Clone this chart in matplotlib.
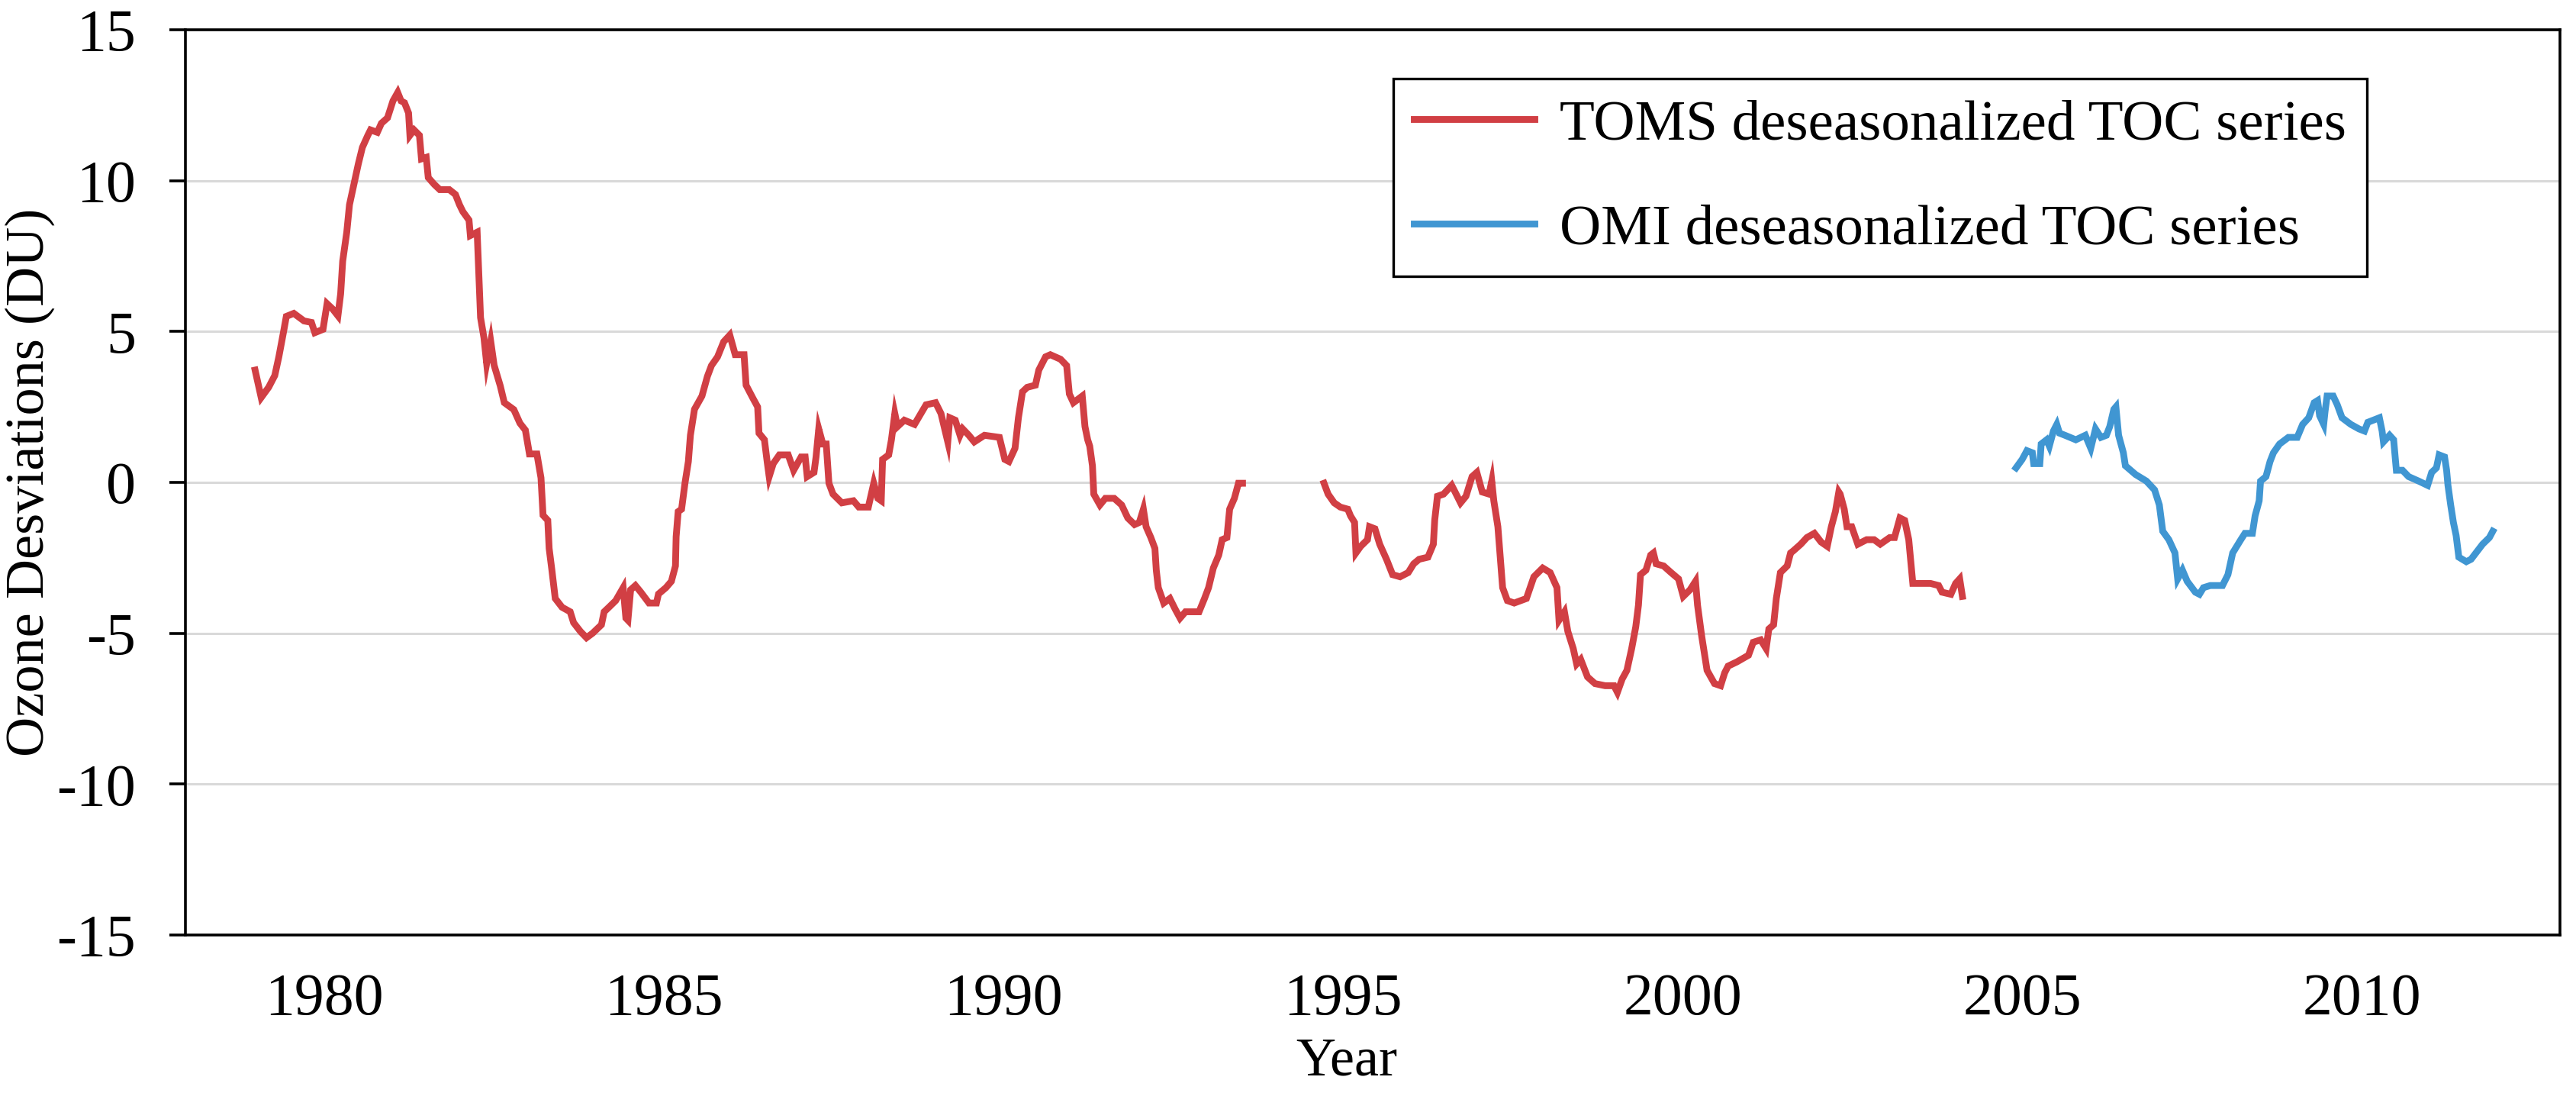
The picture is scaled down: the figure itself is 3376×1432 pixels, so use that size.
import numpy as np
import matplotlib
matplotlib.use("Agg")
import matplotlib.pyplot as plt

# TOMS deseasonalized series (year, DU); nan = data gap
toms_year = [1978.98, 1979.07, 1979.18, 1979.27, 1979.33, 1979.40, 1979.44, 1979.55, 1979.70, 1979.81,
             1979.86, 1979.98, 1980.04, 1980.12, 1980.20, 1980.24, 1980.27, 1980.33, 1980.37, 1980.43,
             1980.50, 1980.56, 1980.64, 1980.68, 1980.78, 1980.84, 1980.93, 1981.01, 1981.08, 1981.13,
             1981.18, 1981.24, 1981.26, 1981.32, 1981.40, 1981.43, 1981.50, 1981.53, 1981.62, 1981.70,
             1981.84, 1981.93, 1981.99, 1982.04, 1982.13, 1982.15, 1982.25, 1982.28, 1982.30, 1982.35,
             1982.39, 1982.45, 1982.50, 1982.59, 1982.65, 1982.79, 1982.88, 1982.96, 1983.02, 1983.13,
             1983.19, 1983.22, 1983.29, 1983.31, 1983.35, 1983.40, 1983.50, 1983.62, 1983.67, 1983.77,
             1983.86, 1983.95, 1984.08, 1984.12, 1984.19, 1984.29, 1984.40, 1984.44, 1984.47, 1984.51,
             1984.58, 1984.66, 1984.78, 1984.89, 1984.92, 1985.03, 1985.11, 1985.17, 1985.18, 1985.21,
             1985.26, 1985.31, 1985.36, 1985.39, 1985.45, 1985.56, 1985.64, 1985.70, 1985.79, 1985.88,
             1985.97, 1986.05, 1986.18, 1986.21, 1986.31, 1986.38, 1986.40, 1986.48, 1986.52, 1986.55,
             1986.61, 1986.70, 1986.83, 1986.91, 1987.02, 1987.08, 1987.11, 1987.21, 1987.24, 1987.28,
             1987.34, 1987.39, 1987.43, 1987.49, 1987.62, 1987.79, 1987.87, 1988.01, 1988.09, 1988.15,
             1988.20, 1988.22, 1988.31, 1988.35, 1988.40, 1988.44, 1988.54, 1988.69, 1988.86, 1989.00,
             1989.08, 1989.18, 1989.21, 1989.29, 1989.36, 1989.40, 1989.49, 1989.57, 1989.72, 1989.94,
             1990.02, 1990.08, 1990.17, 1990.22, 1990.28, 1990.35, 1990.47, 1990.52, 1990.62, 1990.69,
             1990.84, 1990.93, 1990.97, 1991.03, 1991.16, 1991.20, 1991.24, 1991.27, 1991.31, 1991.33,
             1991.42, 1991.50, 1991.63, 1991.74, 1991.83, 1991.93, 1992.00, 1992.06, 1992.10, 1992.17,
             1992.23, 1992.25, 1992.28, 1992.36, 1992.45, 1992.53, 1992.60, 1992.68, 1992.88, 1992.96,
             1993.02, 1993.09, 1993.17, 1993.22, 1993.29, 1993.33, 1993.40, 1993.46, 1993.52, 1994.10,
             1994.72, 1994.78, 1994.87, 1994.96, 1995.07, 1995.11, 1995.17, 1995.19, 1995.26, 1995.36,
             1995.39, 1995.47, 1995.54, 1995.64, 1995.73, 1995.84, 1995.96, 1996.04, 1996.12, 1996.25,
             1996.33, 1996.35, 1996.39, 1996.48, 1996.60, 1996.65, 1996.73, 1996.81, 1996.90, 1996.97,
             1997.05, 1997.15, 1997.19, 1997.22, 1997.28, 1997.31, 1997.35, 1997.42, 1997.52, 1997.70,
             1997.81, 1997.94, 1998.05, 1998.15, 1998.18, 1998.26, 1998.31, 1998.39, 1998.44, 1998.50,
             1998.60, 1998.71, 1998.86, 1998.99, 1999.04, 1999.11, 1999.18, 1999.25, 1999.31, 1999.35,
             1999.38, 1999.46, 1999.53, 1999.57, 1999.61, 1999.72, 1999.83, 1999.94, 2000.01, 2000.11,
             2000.19, 2000.22, 2000.28, 2000.36, 2000.47, 2000.56, 2000.62, 2000.67, 2000.80, 2000.97,
             2001.04, 2001.15, 2001.23, 2001.27, 2001.34, 2001.38, 2001.44, 2001.54, 2001.59, 2001.63,
             2001.74, 2001.83, 2001.94, 2002.04, 2002.13, 2002.19, 2002.25, 2002.30, 2002.32, 2002.38,
             2002.42, 2002.49, 2002.58, 2002.71, 2002.82, 2002.91, 2003.05, 2003.12, 2003.20, 2003.27,
             2003.33, 2003.39, 2003.50, 2003.65, 2003.77, 2003.82, 2003.95, 2004.02, 2004.08, 2004.12]
toms_du = [3.72, 2.81, 3.15, 3.54, 4.16, 5.0, 5.5, 5.6, 5.35, 5.3,
           4.96, 5.07, 5.92, 5.75, 5.52, 6.25, 7.33, 8.29, 9.2, 9.82,
           10.55, 11.1, 11.5, 11.68, 11.6, 11.9, 12.08, 12.64, 12.92, 12.64,
           12.58, 12.24, 11.5, 11.68, 11.5, 10.72, 10.77, 10.1, 9.87, 9.7,
           9.7, 9.54, 9.2, 8.97, 8.69, 8.18, 8.29, 6.6, 5.46, 4.79,
           3.94, 4.67, 3.88, 3.2, 2.64, 2.41, 1.96, 1.73, 0.94, 0.94,
           0.15, -1.09, -1.26, -2.19, -2.9, -3.85, -4.14, -4.29, -4.65, -4.94,
           -5.15, -5.0, -4.72, -4.29, -4.14, -3.92, -3.49, -4.5, -4.57, -3.56,
           -3.42, -3.64, -4.0, -4.0, -3.7, -3.49, -3.28, -2.77, -1.8, -0.97,
           -0.89, -0.03, 0.69, 1.56, 2.42, 2.86, 3.51, 3.87, 4.16, 4.66,
           4.88, 4.23, 4.23, 3.22, 2.79, 2.5, 1.63, 1.41, 0.69, 0.19,
           0.62, 0.91, 0.91, 0.4, 0.84, 0.84, 0.19, 0.33, 0.84, 1.77,
           1.27, 1.27, -0.03, -0.39, -0.68, -0.61, -0.82, -0.82, -0.03, -0.53,
           -0.61, 0.76, 0.91, 1.41, 2.28, 1.85, 2.06, 1.92, 2.57, 2.64,
           2.28, 1.34, 2.14, 2.06, 1.56, 1.77, 1.56, 1.34, 1.56, 1.49,
           0.76, 0.69, 1.13, 2.14, 3.0, 3.15, 3.22, 3.72, 4.16, 4.23,
           4.08, 3.87, 2.93, 2.64, 2.86, 1.85, 1.41, 1.2, 0.55, -0.39,
           -0.75, -0.53, -0.53, -0.75, -1.18, -1.4, -1.33, -0.89, -1.47, -1.83,
           -2.19, -2.91, -3.49, -4.0, -3.85, -4.21, -4.5, -4.29, -4.29, -3.85,
           -3.49, -2.84, -2.41, -1.9, -1.83, -0.89, -0.53, -0.03, -0.03, np.nan,
           -0.03, -0.39, -0.68, -0.82, -0.89, -1.11, -1.33, -2.34, -2.12, -1.9,
           -1.47, -1.54, -2.05, -2.55, -3.06, -3.13, -2.99, -2.7, -2.55, -2.48,
           -2.05, -1.25, -0.46, -0.39, -0.1, -0.32, -0.68, -0.46, 0.19, 0.33,
           -0.32, -0.39, 0.04, -0.61, -1.47, -2.34, -3.49, -3.92, -4.0, -3.85,
           -3.13, -2.84, -2.99, -3.49, -4.57, -4.29, -4.94, -5.51, -6.02, -5.87,
           -6.45, -6.67, -6.74, -6.74, -6.96, -6.52, -6.23, -5.51, -4.79, -4.07,
           -3.06, -2.91, -2.41, -2.34, -2.7, -2.77, -2.99, -3.2, -3.78, -3.56,
           -3.28, -4.07, -5.08, -6.23, -6.67, -6.74, -6.31, -6.09, -5.95, -5.73,
           -5.3, -5.22, -5.51, -4.86, -4.72, -3.85, -2.99, -2.77, -2.34, -2.27,
           -2.05, -1.83, -1.69, -1.98, -2.12, -1.47, -0.97, -0.32, -0.39, -0.89,
           -1.47, -1.47, -2.05, -1.9, -1.9, -2.05, -1.83, -1.83, -1.18, -1.26,
           -1.9, -3.35, -3.35, -3.35, -3.42, -3.64, -3.71, -3.35, -3.2, -3.78]

# OMI deseasonalized series
omi_year = [2004.91, 2005.00, 2005.07, 2005.15, 2005.17, 2005.26, 2005.28, 2005.36, 2005.40, 2005.46,
            2005.51, 2005.55, 2005.63, 2005.79, 2005.93, 2006.01, 2006.08, 2006.16, 2006.24, 2006.29,
            2006.35, 2006.38, 2006.42, 2006.49, 2006.52, 2006.67, 2006.83, 2006.95, 2007.02, 2007.07,
            2007.16, 2007.25, 2007.29, 2007.36, 2007.43, 2007.55, 2007.61, 2007.67, 2007.77, 2007.95,
            2008.03, 2008.10, 2008.22, 2008.28, 2008.39, 2008.43, 2008.49, 2008.51, 2008.59, 2008.65,
            2008.70, 2008.79, 2008.92, 2009.05, 2009.13, 2009.22, 2009.30, 2009.35, 2009.38, 2009.44,
            2009.46, 2009.49, 2009.58, 2009.64, 2009.71, 2009.84, 2009.96, 2010.04, 2010.09, 2010.17,
            2010.26, 2010.30, 2010.32, 2010.41, 2010.47, 2010.51, 2010.60, 2010.69, 2010.84, 2010.97,
            2011.03, 2011.10, 2011.14, 2011.22, 2011.25, 2011.27, 2011.31, 2011.35, 2011.39, 2011.43,
            2011.54, 2011.61, 2011.78, 2011.88, 2011.93]
omi_du = [0.48, 0.76, 1.05, 0.98, 0.62, 0.62, 1.27, 1.41, 1.2, 1.7,
          1.92, 1.63, 1.56, 1.41, 1.56, 1.13, 1.77, 1.49, 1.56, 1.85,
          2.42, 2.5, 1.56, 0.98, 0.55, 0.26, 0.04, -0.25, -0.75, -1.62,
          -1.9, -2.34, -3.2, -2.91, -3.28, -3.64, -3.71, -3.49, -3.42, -3.42,
          -3.06, -2.34, -1.9, -1.69, -1.69, -1.11, -0.61, 0.04, 0.19, 0.69,
          0.98, 1.27, 1.49, 1.49, 1.92, 2.14, 2.64, 2.71, 2.21, 1.92,
          2.35, 2.86, 2.86, 2.57, 2.14, 1.92, 1.77, 1.7, 1.99, 2.06,
          2.14, 1.7, 1.34, 1.56, 1.41, 0.4, 0.4, 0.19, 0.04, -0.1,
          0.33, 0.48, 0.91, 0.84, 0.4, -0.1, -0.75, -1.33, -1.76, -2.48,
          -2.63, -2.55, -2.05, -1.83, -1.62]

year_ticks = [1980, 1985, 1990, 1995, 2000, 2005, 2010]
du_ticks = [-15, -10, -5, 0, 5, 10, 15]

plt.rcParams['font.family'] = ['Liberation Serif', 'DejaVu Serif']

fig = plt.figure(figsize=(16.88, 7.16), dpi=200)
ax = fig.add_axes([0.072, 0.1446, 0.9218, 0.8282])

ax.plot(toms_year, toms_du, color='#D13F44', lw=3.2, solid_joinstyle='miter',
        label='TOMS deseasonalized TOC series')
ax.plot(omi_year, omi_du, color='#4096D2', lw=3.2, solid_joinstyle='miter',
        label='OMI deseasonalized TOC series')

ax.set_xlim(1977.955, 2012.92)
ax.set_ylim(-15, 15)
ax.set_xticks(year_ticks)
ax.set_yticks(du_ticks)
ax.set_yticklabels([str(v) for v in du_ticks])
ax.tick_params(axis='x', length=0, pad=18, labelsize=28)
ax.tick_params(axis='y', length=7.5, width=1.3, pad=16, labelsize=28, direction='out')

ax.grid(axis='y', color='#D9D9D9', lw=1.1)
ax.set_axisbelow(True)
for s in ax.spines.values():
    s.set_linewidth(1.3)
    s.set_color('black')

ax.set_xlabel('Year', fontsize=26, labelpad=0)
ax.xaxis.set_label_coords(0.489, -0.113)
ax.set_ylabel('Ozone Desviations (DU)', fontsize=26)
ax.yaxis.set_label_coords(-0.055, 0.5)

leg = ax.legend(loc='upper left', bbox_to_anchor=(0.5087, 0.946), borderaxespad=0,
                fontsize=27, handlelength=2.1, handletextpad=0.44, labelspacing=0.91,
                borderpad=0.36, fancybox=False, framealpha=1, edgecolor='black')
leg.get_frame().set_linewidth(1.2)

fig.savefig('out.png', dpi=200)
